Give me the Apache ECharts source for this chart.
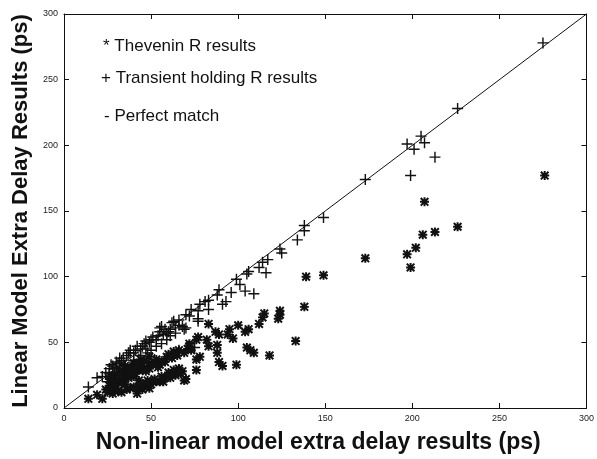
<!DOCTYPE html>
<html>
<head>
<meta charset="utf-8">
<script src="https://cdn.jsdelivr.net/npm/echarts@6/dist/echarts.min.js"></script>
<style>
html,body{margin:0;padding:0;background:#fff;}
#chart{width:597px;height:459px;}
</style>
</head>
<body>
<div id="chart"></div>
<script>
// Tick values
var xTicks = [0, 50, 100, 150, 200, 250, 300];
var yTicks = [0, 50, 100, 150, 200, 250, 300];

// Perfect match line endpoints (data)
var perfectMatch = [[0, 0], [300, 300]];

// Transient holding R results (+)
var transientR = [
  [275,278],[226,228],[205,207],[197,201],[207,202],[201,197],[213,191],[199,177],[173,174],
  [149,145],[138,139],[138,135],[134,128],[124,121],[125,118],[117,113],[114,111],[112,107],
  [116,103],[106,104],[105,102],[99,98],[101,94],[104,89],[109,87],
  [89,90],[96,88],[93,81],[91,79],[88,86],[83,82],[83,75],
  [81,81],[78,79],[77,74],[73,75],[70,71],[69,60],[66,63],[63,66],[61,60],[55,61],[55,58],
  [72,70],[66,67],[62,65],[56,62],[59,57],[51,54],[46,49],[42,47],
  [47,51],[50,52],[38,44],[37,42],[32,38],[27,33],[26,30],[22,24],[19,23],[14,16],
  [77,68],[77,66],[70,61],[64,61],[59,52],[53,47],[47,45],[38,42],[33,36],[31,34],[28,30],
  [75,46],[66,44],[52,37],[45,31],[36,27],[30,23],[33,26],[29,27],[25,20],[44,40],[48,42],
  [40,36],[35,33],[30,31],
  [57,56],[60,58],[53,52],[49,50],[45,47],[41,44],[36,40],[34,38],[30,35],[28,32],[24,27],
  [26,26],[32,30],[35,29],[39,33],[43,37],[50,44],[56,49],[61,55],[64,57],[68,62],[58,60],
  [54,55],[44,45],[40,42]
];

// Thevenin R results (*)
var theveninR = [
  [276,177],[207,157],[226,138],[213,134],[206,132],[202,122],[197,117],[199,107],[173,114],
  [149,101],[139,100],[138,77],[133,51],
  [124,74],[124,71],[123,68],[115,72],[114,69],[112,64],[106,60],[104,58],[100,63],[95,60],
  [94,56],[97,53],[89,56],[87,58],[83,64],
  [105,46],[107,44],[109,42],[118,40],[99,33],[88,48],[88,42],[89,35],[91,32],[82,52],[83,47],[78,39],
  [77,54],[76,52],[72,49],[71,45],
  [76,37],[76,29],[72,47],[66,44],[63,43],[59,39],[53,37],[49,34],[45,32],[42,29],[40,24],[43,21],
  [57,20],[61,23],[64,25],[68,28],[69,21],[65,27],[62,25],[58,23],[55,20],[70,22],
  [49,15],[45,14],[42,11],[51,20],[47,19],[43,16],[38,15],[33,12],[28,11],[24,14],
  [49,30],[43,29],[36,27],[32,21],[27,20],[40,34],[44,37],[49,39],[55,33],
  [14,7],[19,10],[22,7],[26,17],[31,20],[35,22],[39,25],[46,30],[29,25],[27,24],[30,15],
  [35,18],[46,17],[50,18],[53,20],[67,26],
  [60,41],[56,36],[51,33],[47,28],[41,26],[37,23],[33,19],[29,18],[25,12],[28,14],[31,13],
  [36,14],[40,16],[44,18],[48,21],[52,22],[56,24],[60,27],[63,29],[66,30],[54,31],[58,35],
  [62,38],[65,40],[69,42],[73,44],[34,25],[38,30],[42,33],[46,36],[30,22],[26,22],[32,28],[35,32]
];

var plusPath = 'path://M4.35,0h1.3v4.35h4.35v1.3h-4.35v4.35h-1.3v-4.35h-4.35v-1.3h4.35z';
var starPath = 'path://M0,3.9h10v2.2h-10z M3.9,0h2.2v10h-2.2z M1.55,0L10,8.45L8.45,10L0,1.55z M8.45,0L10,1.55L1.55,10L0,8.45z';

var FONT = 'Arial, "Liberation Sans", Helvetica, sans-serif';
var INK = '#111';

function axisCommon(pos, showLabel, name, nameGap, nameSize, namePad) {
  return {
    type: 'value', position: pos, min: 0, max: 300, interval: 50,
    axisLine: {show: true, onZero: false, lineStyle: {color: INK, width: 1}},
    axisTick: {show: true, inside: true, length: 5, lineStyle: {color: INK, width: 1}},
    axisLabel: {show: showLabel, fontSize: 9, color: '#222', fontFamily: FONT, margin: 6},
    splitLine: {show: false},
    name: name || '', nameLocation: 'middle', nameGap: nameGap || 0,
    nameTextStyle: {fontSize: nameSize || 12, fontWeight: 'bold', color: INK, fontFamily: FONT,
                    padding: namePad || 0}
  };
}

var chart = echarts.init(document.getElementById('chart'), null, {renderer: 'canvas'});
chart.setOption({
  animation: false,
  backgroundColor: '#fff',
  grid: {left: 64, top: 14, right: 8, bottom: 51, containLabel: false},
  xAxis: [
    axisCommon('bottom', true, 'Non-linear model extra delay results (ps)', 23, 23, [0, 14, 0, 0]),
    axisCommon('top', false)
  ],
  yAxis: [
    axisCommon('left', true, 'Linear Model Extra Delay Results (ps)', 32, 22),
    axisCommon('right', false)
  ],
  graphic: [
    {type: 'text', left: 103, top: 38, style: {text: '* Thevenin R results', font: '17px ' + FONT, fill: INK}},
    {type: 'text', left: 101, top: 70, style: {text: '+ Transient holding R results', font: '17px ' + FONT, fill: INK}},
    {type: 'text', left: 104, top: 108, style: {text: '- Perfect match', font: '17px ' + FONT, fill: INK}}
  ],
  series: [
    {
      type: 'line', data: perfectMatch, symbol: 'none', xAxisIndex: 0, yAxisIndex: 0,
      lineStyle: {color: INK, width: 1}, silent: true, z: 1
    },
    {
      type: 'scatter', data: theveninR, symbol: starPath, symbolSize: 9,
      itemStyle: {color: INK, opacity: 1}, xAxisIndex: 0, yAxisIndex: 0, z: 2
    },
    {
      type: 'scatter', data: transientR, symbol: plusPath, symbolSize: 11,
      itemStyle: {color: INK, opacity: 1}, xAxisIndex: 0, yAxisIndex: 0, z: 3
    }
  ]
});
</script>
</body>
</html>
